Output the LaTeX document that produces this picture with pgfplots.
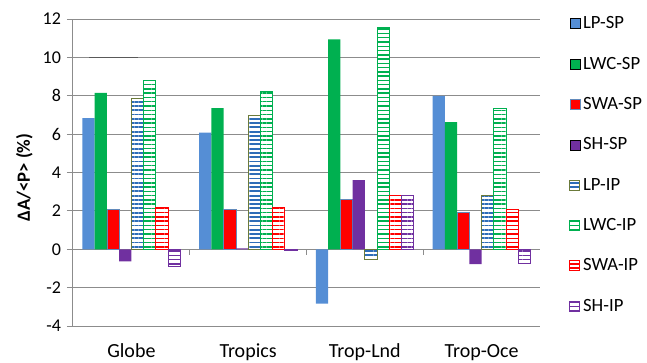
\documentclass[border=0pt]{standalone}
\usepackage{fontspec}
\setmainfont{Carlito}
\usepackage{pgfplots}
\pgfplotsset{compat=1.18}
\usetikzlibrary{patterns.meta}
\definecolor{cLP}{HTML}{558ED5}
\definecolor{cLPs}{HTML}{2E6DB8}
\definecolor{cLWC}{HTML}{00B050}
\definecolor{cSWA}{HTML}{FF0000}
\definecolor{cSH}{HTML}{7030A0}
\definecolor{cOl}{HTML}{6B7A3A}
\definecolor{cGrid}{HTML}{8C8C8C}
\pgfplotsset{sqleg/.style={/pgfplots/legend image code/.code={\draw[##1] (0pt,-3.75pt) rectangle (7.5pt,3.75pt);}}}
\begin{document}
\begin{tikzpicture}
\useasboundingbox (-54.75pt,-27pt) rectangle (430.5pt,244.5pt);
\begin{axis}[
  at={(0,0)}, anchor=south west,
  scale only axis, width=350.25pt, height=230.25pt,
  ybar=0pt, bar width=9.2pt,
  xmin=-0.5, xmax=3.5, ymin=-4, ymax=12,
  ytick={-4,-2,...,12},
  xtick={0,1,2,3},
  xticklabels={Globe,Tropics,Trop-Lnd,Trop-Oce},
  x tick style={draw=none},
  y tick style={cGrid, line width=0.75pt},
  major tick length=4.5pt,
  tick align=outside,
  axis y line*=left, axis x line*=bottom,
  axis line style={cGrid, line width=0.75pt},
  x axis line style={draw=none},
  ymajorgrids, grid style={cGrid, line width=0.75pt},
  /pgf/number format/assume math mode=true,
  yticklabel style={font=\fontsize{13.5}{15}\selectfont, xshift=-1pt},
  xticklabel style={font=\fontsize{15}{17}\selectfont, yshift=-5.5pt},
  ylabel={\textbf{ΔA/<P> (\%)}},
  ylabel style={at={(axis description cs:-0.104,0.483)}, anchor=center, font=\fontsize{14}{16}\selectfont},
  legend style={at={(1.054,1.026)}, anchor=north west, draw=none, fill=none,
    font=\fontsize{14}{16}\selectfont, row sep=15.7pt},
  legend cell align=left,
  clip=false,
]
\addplot[sqleg, fill=cLP, draw=none] coordinates {(0,6.83)(1,6.08)(2,-2.83)(3,8.0)};
\addplot[sqleg, fill=cLWC, draw=none] coordinates {(0,8.15)(1,7.36)(2,10.94)(3,6.62)};
\addplot[sqleg, fill=cSWA, draw=cLP!70!gray, line width=0.4pt] coordinates {(0,2.07)(1,2.07)(2,2.59)(3,1.93)};
\addplot[sqleg, fill=cSH, draw=none] coordinates {(0,-0.63)(1,0.05)(2,3.6)(3,-0.78)};
\addplot[sqleg, fill=white, draw=cOl, line width=0.75pt, postaction={pattern={Lines[angle=0,distance=3.2pt,line width=1.4pt]}, pattern color=cLPs}] coordinates {(0,7.88)(1,6.98)(2,-0.54)(3,2.8)};
\addplot[sqleg, fill=white, draw=cLWC, line width=0.75pt, postaction={pattern={Lines[angle=0,distance=3.2pt,line width=1.1pt]}, pattern color=cLWC}] coordinates {(0,8.8)(1,8.23)(2,11.55)(3,7.35)};
\addplot[sqleg, fill=white, draw=cSWA, line width=0.75pt, postaction={pattern={Lines[angle=0,distance=3.2pt,line width=1.1pt]}, pattern color=cSWA}] coordinates {(0,2.17)(1,2.19)(2,2.8)(3,2.07)};
\addplot[sqleg, fill=white, draw=cSH, line width=0.75pt, postaction={pattern={Lines[angle=0,distance=3.2pt,line width=1.1pt]}, pattern color=cSH}] coordinates {(0,-0.92)(1,-0.05)(2,2.8)(3,-0.73)};
\legend{LP-SP,LWC-SP,SWA-SP,SH-SP,LP-IP,LWC-IP,SWA-IP,SH-IP}
\draw[cGrid, line width=0.75pt] (axis cs:0.5,0) -- ([yshift=-4.5pt]axis cs:0.5,0);
\draw[cGrid, line width=0.75pt] (axis cs:1.5,0) -- ([yshift=-4.5pt]axis cs:1.5,0);
\draw[cGrid, line width=0.75pt] (axis cs:2.5,0) -- ([yshift=-4.5pt]axis cs:2.5,0);
\draw[gray!70!black, line width=1pt] (axis cs:-0.36,10) -- (axis cs:0.06,10);
\end{axis}
\end{tikzpicture}
\end{document}
